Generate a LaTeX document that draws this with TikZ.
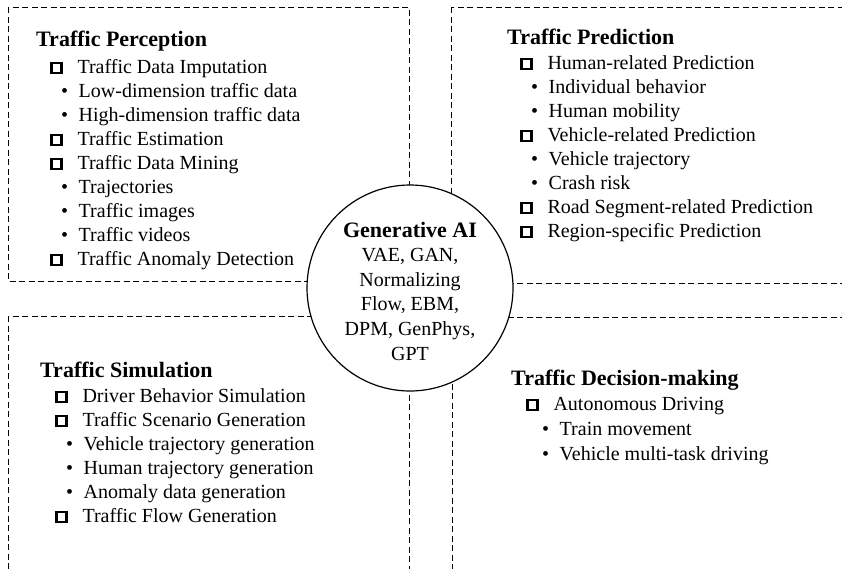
\documentclass[tikz,border=0pt]{standalone}
\usepackage{fontspec}
\setmainfont{Liberation Serif}
\newcommand{\sqr}{\raisebox{1.5pt}{\fboxrule=2.4pt\fboxsep=0pt\fbox{\rule{0pt}{7.5pt}\rule{7.5pt}{0pt}}}\hspace{15pt}}
\newcommand{\bul}{\textbullet\hspace{10.5pt}}
\tikzset{
  zone/.style={draw, line width=1pt, dash pattern=on 6pt off 3.5pt},
  head/.style={anchor=base west, inner sep=0pt, font=\fontsize{22}{24}\selectfont\bfseries},
  entry/.style={anchor=base west, inner sep=0pt, font=\fontsize{20}{24}\selectfont},
  hub/.style={circle, draw, line width=1.2pt, fill=white, minimum size=206pt, inner sep=0pt}
}
\begin{document}
\begin{tikzpicture}[x=1pt,y=-1pt]
      \useasboundingbox (0,0) rectangle (842,568);
      \clip (0,0) rectangle (842,568);

      % four areas
      \draw[zone] (8,7) rectangle (409,281);
      \draw[zone] (451,7) rectangle (870,283);
      \draw[zone] (8,316) rectangle (409,590);
      \draw[zone] (452,317) rectangle (870,590);

      % perception
      \node[head] (perc) at (36,46) {Traffic Perception};
      \node[entry] (perc1) at (50,73) {\sqr Traffic Data Imputation};
      \node[entry] (perc2) at (61,97) {\bul Low-dimension traffic data};
      \node[entry] (perc3) at (61,121) {\bul High-dimension traffic data};
      \node[entry] (perc4) at (50,145) {\sqr Traffic Estimation};
      \node[entry] (perc5) at (50,169) {\sqr Traffic Data Mining};
      \node[entry] (perc6) at (61,193) {\bul Trajectories};
      \node[entry] (perc7) at (61,217) {\bul Traffic images};
      \node[entry] (perc8) at (61,241) {\bul Traffic videos};
      \node[entry] (perc9) at (50,265) {\sqr Traffic Anomaly Detection};

      % prediction
      \node[head] (pred) at (507,44) {Traffic Prediction};
      \node[entry] (pred1) at (520,69) {\sqr Human-related Prediction};
      \node[entry] (pred2) at (531,93) {\bul Individual behavior};
      \node[entry] (pred3) at (531,117) {\bul Human mobility};
      \node[entry] (pred4) at (520,141) {\sqr Vehicle-related Prediction};
      \node[entry] (pred5) at (531,165) {\bul Vehicle trajectory};
      \node[entry] (pred6) at (531,189) {\bul Crash risk};
      \node[entry] (pred7) at (520,213) {\sqr Road Segment-related Prediction};
      \node[entry] (pred8) at (520,237) {\sqr Region-specific Prediction};

      % simulation
      \node[head] (sim) at (40,377) {Traffic Simulation};
      \node[entry] (sim1) at (55,402) {\sqr Driver Behavior Simulation};
      \node[entry] (sim2) at (55,426) {\sqr Traffic Scenario Generation};
      \node[entry] (sim3) at (66,450) {\bul Vehicle trajectory generation};
      \node[entry] (sim4) at (66,474) {\bul Human trajectory generation};
      \node[entry] (sim5) at (66,498) {\bul Anomaly data generation};
      \node[entry] (sim6) at (55,522) {\sqr Traffic Flow Generation};

      % decision-making
      \node[head] (dec) at (511,385) {Traffic Decision-making};
      \node[entry] (dec1) at (526,410) {\sqr Autonomous Driving};
      \node[entry] (dec2) at (542,435) {\bul Train movement};
      \node[entry] (dec3) at (542,460) {\bul Vehicle multi-task driving};

      % centre
      \node[hub] (gai) at (410,288) {};
      \node[anchor=base, inner sep=0pt, align=center, font=\fontsize{20}{24.6}\selectfont] (gaitext) at (410,360)
        {{\fontsize{22}{24.6}\selectfont\bfseries Generative AI}\\ VAE, GAN,\\ Normalizing\\ Flow, EBM,\\ DPM, GenPhys,\\ GPT};
    \end{tikzpicture}
\end{document}
